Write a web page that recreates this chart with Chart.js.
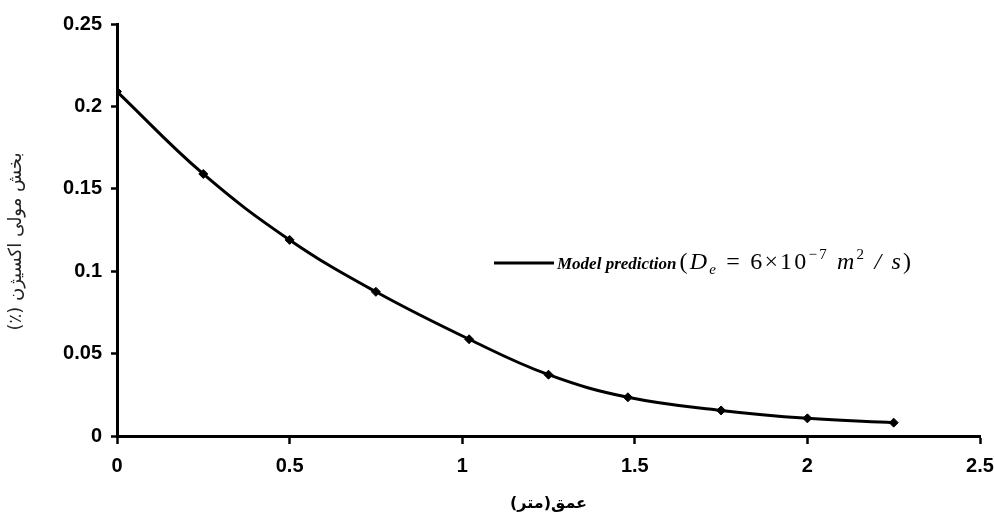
<!DOCTYPE html>
<html>
<head>
<meta charset="utf-8">
<script src="https://cdn.jsdelivr.net/npm/chart.js@4.4.1/dist/chart.umd.min.js"></script>
<style>
  html, body { margin: 0; padding: 0; background: #fff; }
  #wrap { width: 994px; height: 516px; }
</style>
</head>
<body>
<div id="wrap"><canvas id="myChart" width="994" height="516"></canvas></div>
<script>
// depth (m) vs. oxygen mole fraction from the model
const depth = [0, 0.25, 0.5, 0.75, 1.02, 1.25, 1.48, 1.75, 2.0, 2.25];
const oxygen = [0.209, 0.159, 0.119, 0.0875, 0.0587, 0.0372, 0.0235, 0.0155, 0.0107, 0.0081];

const xTicks = ["0", "0.5", "1", "1.5", "2", "2.5"];
const yTicks = ["0", "0.05", "0.1", "0.15", "0.2", "0.25"];

const seriesLabel = "Model prediction";
// RLM marks keep the Persian titles right-to-left on the LTR canvas
const xTitle = "عمق(متر)\u200F";
// the leading spaces nudge the title along the axis
const yTitle = "\u200F\u00A0\u00A0\u00A0\u00A0بخش مولی اکسیژن (٪)\u200F";

// (De = 6x10^-7 m^2 / s), split into runs so sub/superscripts can be drawn
const formulaParts = [
    { text: "(", italic: false },
    { text: "D", italic: true },
    { text: "e", italic: true, shift: "sub" },
    { text: " = ", italic: false },
    { text: "6×10", italic: false },
    { text: "−7", italic: false, shift: "sup" },
    { text: " m", italic: true },
    { text: "2", italic: false, shift: "sup" },
    { text: " / ", italic: true },
    { text: "s", italic: true },
    { text: ")", italic: false },
];

const serif = "'Liberation Serif', 'Times New Roman', serif";
const tickFont = { family: "'Liberation Sans', Arial, sans-serif", size: 20, weight: "bold" };

// legend drawn by hand: line sample, bold label, then the formula
const formulaLegend = {
    id: "formulaLegend",
    afterDraw(chart) {
        const ctx = chart.ctx;
        const area = chart.chartArea;
        const ds = chart.data.datasets[0];
        const x0 = area.left + 377;
        const y0 = area.top + 239;

        ctx.save();
        ctx.strokeStyle = ds.borderColor;
        ctx.lineWidth = ds.borderWidth;
        ctx.beginPath();
        ctx.moveTo(x0, y0);
        ctx.lineTo(x0 + 60, y0);
        ctx.stroke();

        ctx.fillStyle = "#000";
        ctx.textBaseline = "alphabetic";
        ctx.textAlign = "left";
        let x = x0 + 63;
        const base = y0 + 6;
        ctx.font = "italic bold 17px " + serif;
        ctx.fillText(ds.label, x, base);
        x += ctx.measureText(ds.label).width + 3;

        ctx.letterSpacing = "2.2px";
        formulaParts.forEach((p) => {
            let size = 24;
            let dy = 0;
            if (p.shift === "sub") { size = 15; dy = 5; }
            if (p.shift === "sup") { size = 15; dy = -10; }
            ctx.font = (p.italic ? "italic " : "") + size + "px " + serif;
            ctx.fillText(p.text, x, base + dy);
            x += ctx.measureText(p.text).width;
        });
        ctx.restore();
    },
};

const ctx = document.getElementById("myChart").getContext("2d");

const myChart = new Chart(ctx, {
    type: "line",
    data: {
        datasets: [
            {
                label: seriesLabel,
                data: depth.map((d, i) => ({ x: d, y: oxygen[i] })),
                borderColor: "#000",
                backgroundColor: "#000",
                borderWidth: 3,
                pointStyle: "rectRot",
                pointRadius: 4.5,
                pointBorderWidth: 1,
                tension: 0.4,
            },
        ],
    },
    options: {
        responsive: false,
        animation: false,
        layout: { padding: { top: 24, right: 0, left: 0, bottom: 0 } },
        plugins: {
            legend: { display: false },
            tooltip: { enabled: false },
        },
        scales: {
            x: {
                type: "linear",
                min: 0,
                max: 2.5,
                ticks: {
                    stepSize: 0.5,
                    color: "#000",
                    font: tickFont,
                    padding: 10,
                    maxRotation: 0,
                    callback: (v) => xTicks[Math.round(v / 0.5)],
                },
                grid: { drawOnChartArea: false, tickLength: 8, tickWidth: 2.5, color: "#000" },
                border: { color: "#000", width: 3 },
                title: {
                    display: true,
                    text: xTitle,
                    color: "#000",
                    font: { family: "'DejaVu Sans', sans-serif", size: 16, weight: "bold" },
                    padding: { top: 0, bottom: 3 },
                },
                afterFit: (scale) => {
                    scale.height = 80;
                    // let the last label run to the canvas edge
                    scale.paddingRight = 14;
                },
            },
            y: {
                min: 0,
                max: 0.25,
                ticks: {
                    stepSize: 0.05,
                    color: "#000",
                    font: tickFont,
                    padding: 9,
                    callback: (v) => yTicks[Math.round(v / 0.05)],
                },
                grid: { drawOnChartArea: false, tickLength: 6, tickWidth: 2.5, color: "#000" },
                border: { color: "#000", width: 3 },
                title: {
                    display: true,
                    text: yTitle,
                    color: "#222",
                    font: { family: "'DejaVu Sans', sans-serif", size: 18 },
                    padding: { top: 6, bottom: 0 },
                },
                afterFit: (scale) => { scale.width = 117; },
            },
        },
    },
    plugins: [formulaLegend],
});
</script>
</body>
</html>
